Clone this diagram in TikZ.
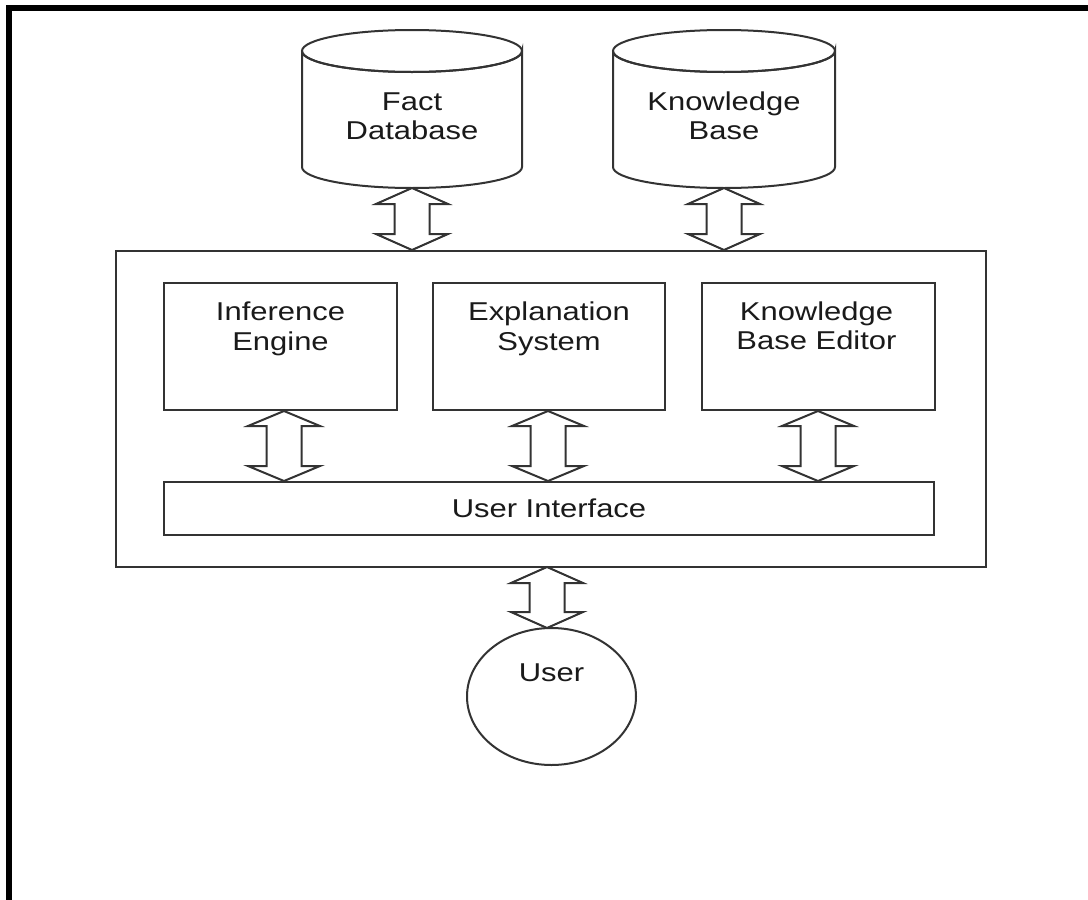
\documentclass[tikz,border=0pt]{standalone}
\usepackage{fontspec}
\setmainfont{Liberation Sans}
\usetikzlibrary{shapes.geometric}
\definecolor{ink}{HTML}{333333}
\definecolor{txt}{HTML}{1A1A1A}
\tikzset{
  ln/.style={draw=ink, line width=2pt},
  lbl/.style={text=txt, align=center, font=\fontsize{25.8}{29.5}\selectfont, inner sep=0pt, xscale=1.2},
  boxnode/.style={ln, rectangle, inner sep=0pt, fill=white},
  arrowshape/.style={ln, fill=white, line join=miter},
}
% double arrow: x, ytop, ybottom, head length
\newcommand\dblarrow[4]{%
  \draw[arrowshape] (#1,#2) -- (#1+36,#2+#4) -- (#1+17.5,#2+#4) -- (#1+17.5,#3-#4)
    -- (#1+36,#3-#4) -- (#1,#3) -- (#1-36,#3-#4) -- (#1-17.5,#3-#4)
    -- (#1-17.5,#2+#4) -- (#1-36,#2+#4) -- cycle;}
% cylinder: cx, ytop-ellipse-center, ybottom-ellipse-center, rx, ry
\newcommand\drum[5]{%
  \draw[ln, fill=white] (#1-#4,#2) -- (#1-#4,#3) arc[start angle=180, end angle=360, x radius=#4, y radius=-#5]
    -- (#1+#4,#2) arc[start angle=0, end angle=-180, x radius=#4, y radius=-#5];
  \draw[ln] (#1,#2) ellipse[x radius=#4, y radius=#5];}
\begin{document}
\begin{tikzpicture}[x=1pt, y=-1pt]
\useasboundingbox (0,0) rectangle (1088,900);
\fill[white] (0,0) rectangle (1088,900);
% page frame (top and left)
\draw[line width=5.5pt, black, line join=miter] (8.8,900) -- (8.8,8) -- (1088,8);

% databases
\drum{412}{51}{167}{110}{21}
\drum{724}{51}{167}{111}{21}
\node[lbl] (fdb) at (412,116) {Fact\\Database};
\node[lbl] (kb) at (724,116) {Knowledge\\Base};
\coordinate (fdbbot) at (412,188);
\coordinate (kbbot) at (724,188);

% outer box
\node[boxnode, minimum width=870pt, minimum height=316pt] (outer) at (551,409) {};

% inner boxes
\node[boxnode, minimum width=233pt, minimum height=127pt] (ie) at (280.5,346.5) {};
\node[boxnode, minimum width=232pt, minimum height=127pt] (es) at (549,346.5) {};
\node[boxnode, minimum width=233pt, minimum height=127pt] (kbe) at (818.5,346.5) {};
\node[lbl] (iet) at (280.5,329) {Inference\\Engine};
\node[lbl] (est) at (549,329) {Explanation\\System};
\node[lbl] (kbet) at (816.5,326) {Knowledge\\Base Editor};

\node[boxnode, minimum width=770pt, minimum height=53pt] (ui) at (549,508.5) {};
\node[lbl] (uit) at (549,508) {User Interface};

% user
\node[ln, ellipse, minimum width=169pt, minimum height=137pt, inner sep=0pt] (user) at (551.5,696.5) {};
\node[lbl] (usert) at (551.5,673) {User};

% double arrows
\dblarrow{412}{188}{250}{16}
\dblarrow{724}{188}{250}{16}
\dblarrow{284}{411}{481}{15}
\dblarrow{548}{411}{481}{15}
\dblarrow{818}{411}{481}{15}
\dblarrow{547}{567}{628}{16}
\end{tikzpicture}
\end{document}
